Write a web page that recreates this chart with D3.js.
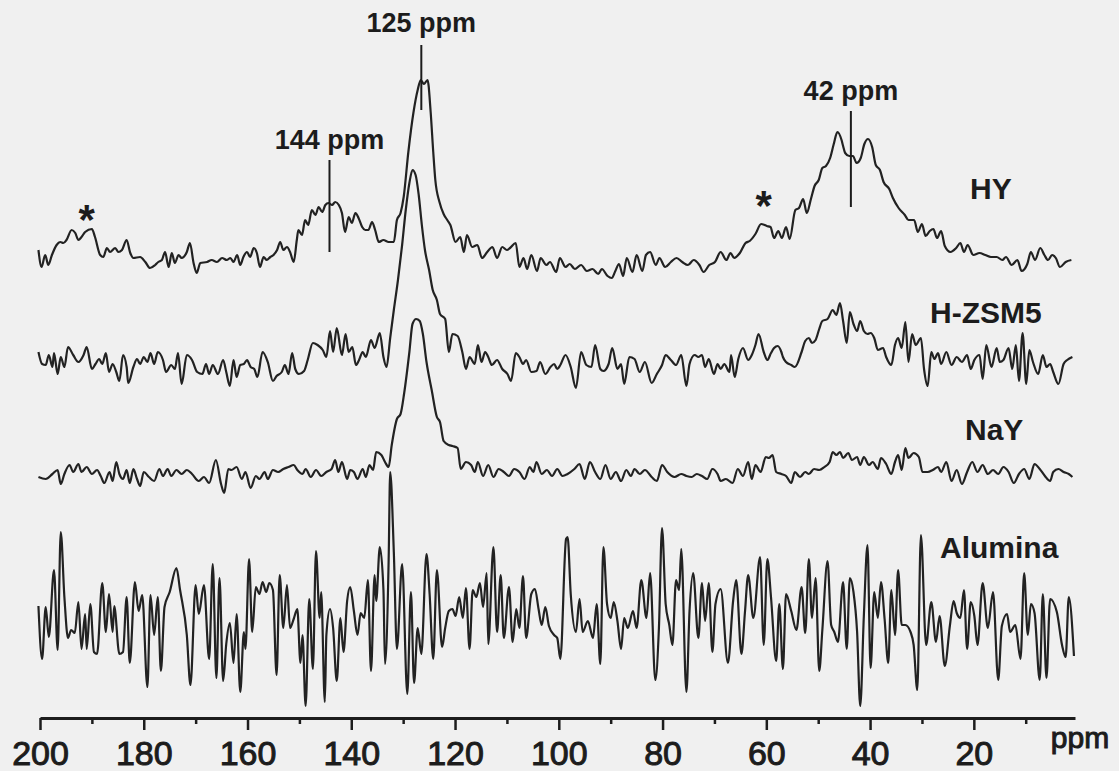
<!DOCTYPE html>
<meta charset="utf-8">
<script src="https://d3js.org/d3.v7.min.js"></script>
<style>
  body { margin: 0; background: #f0f0f0; }
  #chart { width: 1119px; height: 771px; }
  text { font-family: "Liberation Sans", Arial, sans-serif; fill: #1c1c1c; }
</style>
<body>
<div id="chart"></div>
<script>
// spectra: [ppm, intensity above own baseline]
var hy = [[200.3,12],[199.7,-5],[199.0,7],[198.4,-3],[197.7,7],[196.8,17],[196.1,20],[195.5,19],[194.9,22],[193.9,32],[193.2,29],[192.6,22],[192.0,25],[191.3,30],[190.0,33],[189.4,25],[188.4,7],[187.8,5],[187.1,14],[186.5,10],[185.5,14],[184.9,10],[184.2,12],[183.3,22],[182.6,9],[182.0,4],[180.7,5],[179.7,0],[178.8,-6],[177.8,-3],[177.2,0],[176.5,2],[175.9,10],[175.2,-5],[174.6,9],[174.0,-1],[173.3,7],[172.7,4],[171.7,10],[171.1,19],[170.4,-1],[169.8,-11],[169.1,-1],[167.8,0],[166.9,2],[165.9,0],[164.9,4],[164.0,2],[163.3,4],[162.7,0],[162.0,7],[161.4,-3],[160.8,5],[160.1,10],[159.5,5],[158.8,14],[158.2,9],[157.6,-5],[156.9,5],[156.3,2],[155.6,5],[155.0,7],[154.3,12],[153.7,20],[153.1,12],[152.4,15],[151.8,10],[151.1,0],[150.5,22],[150.2,32],[149.5,27],[148.9,42],[148.3,37],[147.6,52],[146.9,47],[146.3,55],[145.6,50],[145.0,57],[144.4,59],[143.7,57],[143.1,60],[142.4,57],[141.8,49],[141.2,30],[140.5,45],[139.9,39],[139.2,49],[138.6,44],[137.9,35],[137.3,32],[136.7,32],[136.0,40],[135.4,32],[134.7,20],[133.8,22],[132.8,20],[131.8,20],[131.2,42],[130.5,49],[129.9,65],[129.0,110],[128.0,150],[127.2,172],[126.6,182],[126.0,178],[125.3,182],[124.7,150],[124.2,110],[123.8,82],[123.0,60],[122.2,48],[121.5,42],[120.9,37],[119.9,20],[119.0,25],[118.3,10],[117.7,27],[116.7,15],[115.7,17],[114.8,4],[113.8,10],[112.8,15],[111.9,4],[110.9,15],[110.0,12],[109.4,14],[108.3,19],[107.6,-5],[106.8,4],[106.1,-7],[105.3,7],[104.2,-9],[103.5,4],[102.4,-3],[101.7,0],[100.5,-10],[99.8,4],[98.7,-5],[97.9,-2],[96.9,-7],[95.7,-3],[94.6,-9],[93.5,-7],[92.4,-12],[91.7,-7],[90.6,-14],[89.8,-16],[89.1,-9],[88.4,-2],[87.6,-14],[86.9,4],[85.8,-10],[85.0,7],[83.9,-9],[83.2,7],[82.4,10],[81.3,-3],[80.6,4],[79.5,-5],[78.4,0],[77.3,4],[76.2,0],[75.1,-3],[74.0,2],[72.9,-3],[72.1,-10],[71.0,-3],[69.9,0],[68.8,10],[67.7,2],[66.9,9],[66.2,4],[65.1,9],[64.0,19],[63.2,21],[62.1,28],[61.0,38],[59.9,36],[59.2,35],[58.5,24],[57.7,31],[57.0,24],[56.2,35],[55.5,23],[54.4,52],[53.7,54],[52.9,63],[52.2,49],[51.4,63],[50.7,76],[49.9,82],[49.2,94],[48.5,96],[47.7,104],[47.0,118],[46.3,130],[45.5,122],[45.2,116],[44.8,109],[44.0,106],[43.3,106],[42.6,99],[41.8,104],[41.1,118],[40.4,123],[39.6,115],[38.9,97],[38.1,92],[37.4,80],[36.3,73],[35.6,64],[34.5,54],[33.3,47],[32.6,42],[31.5,42],[30.8,30],[30.0,38],[29.3,26],[28.5,31],[27.8,33],[27.1,24],[26.3,31],[25.6,16],[24.5,10],[23.4,14],[22.6,19],[21.9,10],[21.2,17],[20.1,7],[18.9,9],[17.8,7],[16.7,5],[15.6,5],[14.5,2],[13.8,5],[12.7,-3],[11.6,2],[10.8,-9],[9.7,-2],[9.0,10],[8.2,2],[7.2,14],[6.4,7],[5.7,2],[4.9,7],[4.2,4],[3.4,-5],[2.3,0],[1.2,2]];

var hzsm5 = [[200.3,13],[199.6,1],[198.9,0],[198.3,10],[197.6,-2],[197.3,12],[196.6,-9],[196.0,8],[195.3,-2],[194.6,18],[193.6,10],[192.6,3],[191.6,10],[191.0,18],[190.0,-4],[189.3,1],[188.6,6],[188.0,1],[187.3,12],[186.7,-7],[186.0,1],[185.3,-7],[184.7,-16],[184.0,10],[183.3,-2],[183.0,-18],[182.0,-2],[181.3,6],[180.7,1],[180.0,8],[179.3,3],[178.7,12],[178.0,1],[177.3,13],[176.3,5],[175.7,-7],[174.7,0],[174.0,-4],[173.4,12],[172.7,-19],[171.7,10],[170.7,5],[169.7,-7],[168.7,-9],[168.0,1],[167.4,-9],[166.7,0],[165.7,-9],[164.7,5],[164.1,-7],[163.4,-21],[162.7,5],[162.1,-12],[161.4,0],[160.7,1],[160.1,5],[159.4,-2],[158.7,-4],[158.1,-12],[157.1,13],[156.1,3],[155.1,-16],[154.4,-11],[153.4,-7],[152.8,0],[152.1,-9],[151.4,12],[150.8,-4],[150.1,-9],[149.1,-6],[148.4,5],[147.4,22],[146.5,20],[145.5,15],[144.8,8],[144.1,34],[143.5,13],[142.8,37],[141.8,10],[141.1,31],[140.5,13],[139.8,18],[139.1,0],[138.5,5],[137.8,13],[137.2,8],[136.2,25],[135.5,17],[134.5,32],[133.8,8],[133.2,-2],[132.5,27],[131.8,55],[131.0,85],[130.2,120],[129.5,155],[128.8,182],[128.2,195],[127.6,190],[127.0,170],[126.4,140],[125.8,115],[125.0,95],[124.3,75],[123.5,65],[122.9,51],[121.9,46],[121.2,13],[120.5,31],[119.5,29],[118.6,13],[117.9,-4],[117.2,8],[116.2,1],[115.6,20],[114.9,3],[114.2,13],[113.6,8],[112.9,0],[111.9,5],[110.9,-4],[109.9,-9],[109.2,-16],[108.3,12],[107.6,8],[106.9,1],[106.3,5],[105.3,-7],[104.3,-6],[103.6,3],[102.6,-9],[101.6,-2],[100.9,1],[100.3,-4],[99.7,0],[98.7,10],[97.7,-2],[96.7,-23],[95.7,13],[94.7,0],[93.7,-2],[93.0,20],[92.0,-4],[91.4,-6],[90.4,1],[89.7,17],[88.7,-4],[88.0,1],[87.4,-19],[86.4,8],[85.4,6],[84.4,-7],[83.4,3],[82.1,-18],[81.1,-9],[80.1,0],[79.4,10],[78.4,5],[77.4,0],[76.4,10],[75.4,-21],[74.8,1],[73.8,10],[73.1,8],[72.4,10],[71.8,-2],[71.1,6],[70.1,-9],[69.4,1],[68.8,-4],[68.1,1],[67.1,-7],[66.8,10],[66.1,-12],[65.4,6],[64.5,17],[63.5,5],[62.8,10],[62.1,20],[61.5,31],[60.5,13],[59.8,5],[59.1,12],[58.5,17],[57.8,19],[57.1,13],[56.8,8],[56.2,3],[55.2,0],[54.5,-2],[53.2,13],[52.5,24],[51.8,27],[51.2,22],[50.5,25],[49.8,36],[49.2,44],[48.2,46],[47.2,55],[46.5,50],[45.8,62],[45.2,44],[44.5,22],[43.9,53],[43.2,41],[42.5,34],[41.9,44],[41.2,34],[40.5,31],[39.9,32],[39.2,27],[38.5,15],[37.5,17],[36.9,8],[35.9,0],[35.2,20],[34.6,27],[33.9,17],[33.2,43],[32.6,3],[31.9,31],[31.2,20],[30.2,27],[29.6,-4],[28.9,-21],[28.2,13],[27.6,6],[26.9,12],[26.3,1],[25.3,13],[24.3,0],[23.3,8],[22.3,3],[21.3,10],[20.6,-4],[19.9,5],[18.9,10],[18.3,-14],[17.6,20],[16.6,-2],[15.6,17],[15.0,3],[14.3,5],[13.3,17],[12.6,-4],[11.9,20],[11.3,-16],[10.6,32],[9.9,-19],[9.3,15],[8.6,3],[7.6,-9],[6.7,10],[6.0,-2],[5.3,1],[4.7,-7],[3.7,-19],[2.7,1],[2.0,5],[1.0,8]];

var nay = [[200.3,-2],[198.9,-4],[197.6,1],[196.6,5],[196.0,-9],[195.3,1],[194.3,10],[193.6,3],[192.6,11],[192.0,3],[191.0,8],[190.0,1],[189.0,5],[188.3,-1],[187.6,-8],[186.6,3],[186.0,-6],[185.3,13],[184.7,1],[184.0,-4],[183.3,5],[182.7,-8],[182.0,6],[181.3,-4],[180.7,-11],[180.0,3],[179.0,-2],[178.0,-6],[177.0,6],[176.3,-1],[175.4,6],[174.7,-1],[173.7,5],[172.7,1],[171.7,5],[170.7,1],[169.4,-6],[168.4,-2],[167.4,-8],[166.1,15],[165.1,-9],[164.5,-18],[163.7,6],[163.1,5],[162.1,8],[161.1,-4],[160.4,3],[159.4,-13],[158.4,-1],[157.7,-4],[156.7,3],[156.1,-4],[155.1,5],[154.1,3],[153.1,6],[152.1,8],[151.1,10],[150.4,5],[149.4,1],[148.8,6],[147.8,-2],[146.8,5],[145.8,-1],[144.8,3],[143.8,6],[143.1,15],[142.5,3],[141.8,13],[140.8,-4],[140.2,5],[139.5,3],[138.8,-4],[137.8,6],[137.2,-2],[136.5,10],[135.8,5],[135.2,23],[134.2,20],[133.5,13],[132.8,8],[132.2,30],[131.2,56],[130.5,61],[129.8,82],[128.8,123],[128.2,151],[127.5,156],[126.8,154],[126.2,141],[125.5,113],[124.5,85],[123.5,58],[122.9,53],[122.2,34],[121.2,30],[120.5,29],[119.5,27],[118.9,6],[117.9,13],[116.9,10],[116.2,3],[115.6,13],[114.6,-1],[113.6,10],[112.6,-2],[111.6,6],[110.6,3],[109.6,-1],[108.6,6],[107.6,3],[106.6,-4],[105.6,8],[104.9,3],[104.3,13],[103.3,1],[102.3,5],[101.3,-1],[100.3,6],[99.3,-1],[98.3,1],[97.0,6],[96.0,11],[95.0,-4],[94.0,13],[93.0,3],[92.0,-4],[91.0,10],[90.0,-4],[89.0,3],[88.0,-6],[87.0,5],[86.1,-1],[85.4,6],[84.4,1],[83.4,5],[82.1,-2],[81.1,-6],[80.1,10],[79.1,3],[77.7,-2],[76.4,1],[75.4,-1],[74.4,-2],[73.4,1],[72.4,-1],[71.4,-4],[70.4,6],[69.4,1],[68.8,-6],[67.8,-4],[66.5,-8],[65.5,6],[64.5,-1],[63.5,13],[62.8,-4],[62.1,10],[61.1,3],[60.1,18],[59.5,17],[58.8,20],[58.1,3],[57.1,1],[56.2,-1],[55.2,-8],[54.5,3],[53.5,-2],[52.5,3],[51.8,1],[50.8,6],[49.8,5],[48.8,8],[47.8,13],[47.2,23],[46.5,20],[45.8,23],[45.2,17],[44.2,22],[43.5,15],[42.5,18],[41.9,10],[41.2,18],[40.2,10],[39.5,13],[38.5,6],[37.9,17],[36.9,11],[35.9,1],[35.2,13],[34.6,20],[33.9,5],[33.2,27],[32.6,17],[31.6,22],[30.6,18],[29.9,3],[28.9,3],[27.9,5],[26.9,8],[26.3,3],[25.3,13],[24.3,-6],[23.3,5],[22.3,-9],[21.3,3],[20.3,13],[19.3,3],[18.3,10],[17.3,1],[16.3,5],[15.3,1],[14.3,8],[13.3,3],[12.3,-8],[11.3,1],[10.3,6],[9.3,-4],[8.3,11],[7.3,6],[6.3,-1],[5.3,-6],[4.7,3],[3.7,6],[2.7,3],[1.7,1],[1.0,-2]];

var alumina = [[200.3,6],[199.6,-47],[198.9,5],[198.3,-25],[197.3,42],[196.6,-38],[196.0,80],[195.3,15],[194.6,-26],[194.0,-18],[193.3,-21],[192.6,10],[192.0,-37],[191.3,-2],[191.0,-37],[190.3,8],[189.6,-40],[189.0,-42],[188.0,29],[187.3,-20],[186.7,18],[186.0,-20],[185.7,6],[184.7,-42],[184.0,-40],[183.3,15],[182.7,-51],[181.7,30],[181.0,1],[180.3,17],[179.3,-75],[178.7,17],[178.0,-23],[177.3,15],[176.7,-59],[176.0,5],[175.0,20],[173.7,44],[173.0,22],[171.7,-23],[171.0,-73],[170.0,27],[169.4,-2],[168.4,27],[167.4,-47],[166.7,48],[166.0,-66],[165.4,34],[164.7,-69],[164.1,-32],[163.4,-11],[162.7,-51],[162.1,-2],[161.4,-80],[160.7,-20],[160.4,-37],[159.7,53],[159.1,-20],[158.4,25],[157.7,18],[157.1,30],[156.4,20],[155.8,29],[155.1,22],[154.4,-63],[153.8,37],[153.1,-16],[152.4,27],[151.8,-16],[151.1,-7],[150.4,3],[149.8,-51],[149.4,-23],[148.8,-94],[148.1,13],[147.4,-57],[146.8,61],[146.1,-6],[145.8,20],[145.1,-90],[144.8,-23],[144.1,3],[143.5,-16],[142.8,-69],[142.1,-6],[141.5,-40],[140.8,11],[140.2,25],[139.5,1],[138.8,-23],[138.2,-1],[137.5,-6],[136.8,32],[136.2,-59],[135.5,37],[135.2,11],[134.5,65],[133.8,22],[133.5,-52],[132.8,51],[132.5,140],[131.8,60],[131.2,-37],[130.2,48],[129.2,-82],[128.5,20],[127.9,-71],[127.2,-16],[126.5,-42],[125.5,58],[124.9,18],[124.2,-47],[123.5,42],[122.5,-35],[121.9,-16],[121.2,1],[120.5,3],[119.9,-4],[119.2,15],[118.5,-6],[117.9,24],[117.2,-37],[116.6,22],[115.9,15],[115.2,29],[114.6,5],[113.9,39],[113.6,-32],[112.6,65],[111.9,-20],[111.2,37],[110.6,-26],[109.6,25],[108.9,-30],[108.2,3],[107.6,-16],[106.9,36],[106.3,-26],[105.3,18],[104.6,23],[103.9,3],[103.3,-13],[102.6,5],[101.9,-14],[100.9,-23],[100.3,-26],[99.7,-47],[98.6,73],[98.3,75],[97.7,18],[96.7,-20],[96.0,13],[95.4,-20],[94.4,-9],[93.4,-26],[92.7,8],[92.0,-52],[91.4,65],[90.7,8],[90.0,-6],[89.4,10],[88.7,-9],[88.0,-37],[87.4,-6],[86.7,-16],[85.7,1],[85.0,-16],[84.1,32],[83.1,-6],[82.4,39],[81.4,-68],[80.7,-16],[80.1,84],[79.4,8],[78.7,-13],[78.1,-33],[77.4,32],[76.8,22],[76.4,63],[75.4,-80],[74.8,1],[74.1,39],[73.1,-26],[72.4,29],[71.8,-9],[71.1,29],[70.4,-40],[69.8,8],[68.8,23],[67.4,-51],[66.4,11],[65.8,32],[64.8,-42],[64.1,1],[63.5,37],[62.5,-6],[61.2,55],[60.5,-33],[59.8,53],[59.1,15],[58.1,-49],[57.5,8],[56.8,-57],[56.2,18],[55.2,1],[54.2,-18],[53.2,25],[52.5,-21],[51.8,53],[51.2,-6],[50.5,34],[49.8,-59],[49.2,-18],[48.2,51],[47.5,-13],[46.9,-20],[46.2,-30],[45.2,30],[44.5,-37],[43.9,34],[43.2,20],[42.5,-20],[41.9,-94],[41.2,-4],[40.5,67],[39.9,-56],[39.2,20],[38.5,-6],[37.9,30],[37.2,-7],[36.5,-51],[35.9,22],[35.2,-23],[34.6,42],[33.9,-13],[33.2,-13],[32.2,-20],[31.6,-33],[30.9,-78],[30.2,77],[29.2,-33],[28.2,10],[27.3,-30],[26.6,-4],[25.6,-54],[24.6,-13],[23.9,11],[23.3,-1],[22.6,-6],[21.9,22],[21.3,-37],[20.6,10],[19.9,-4],[19.3,-33],[18.3,29],[17.3,-16],[16.3,20],[15.3,-68],[14.6,-14],[13.6,-2],[13.0,-20],[12.0,-13],[11.0,-47],[10.3,39],[9.6,-23],[9.0,8],[8.3,-1],[7.3,-68],[6.7,18],[6.0,-66],[5.3,13],[4.0,0],[3.0,-33],[2.3,-45],[1.7,15],[0.7,-44]];

var seriesNames = ["HY", "H-ZSM5", "NaY", "Alumina"];
var seriesData = [hy, hzsm5, nay, alumina];

var majorTicks = [200, 180, 160, 140, 120, 100, 80, 60, 40, 20];
var minorTicks = [190, 170, 150, 130, 110, 90, 70, 50, 30, 10];

var peakPpm = [126.5, 144.2, 43.7];
var peakLabels = ["125 ppm", "144 ppm", "42 ppm"];
var starPpm = [191, 60.5];

// layout (pixels)
var W = 1119, H = 771, axisY = 718;
var baselines = [262, 365, 475, 612];
var nameX = [970, 930, 965, 940], nameY = [199, 323, 440, 558];
var peakLine = [[45, 110], [160, 252], [111, 207]], peakTextY = [32, 149, 100];
var starY = [210, 196];

var svg = d3.select("#chart").append("svg")
  .attr("width", W).attr("height", H);

svg.append("rect").attr("width", W).attr("height", H).attr("fill", "#f0f0f0");

var x = d3.scaleLinear().domain([200, 0.5]).range([40, 1075]);

var line = d3.line()
  .curve(d3.curveMonotoneX)
  .x(function(d) { return x(d[0]); });

seriesData.forEach(function(data, i) {
  var y = d3.scaleLinear().domain([0, 100]).range([baselines[i], baselines[i] - 100]);
  svg.append("path")
    .datum(data)
    .attr("fill", "none")
    .attr("stroke", "#222")
    .attr("stroke-width", 2.2)
    .attr("stroke-linejoin", "round")
    .attr("d", line.y(function(d) { return y(d[1]); }));

  svg.append("text")
    .attr("x", nameX[i]).attr("y", nameY[i])
    .style("font-size", "30px").style("font-weight", "bold")
    .text(seriesNames[i]);
});

// peak markers
peakPpm.forEach(function(p, i) {
  svg.append("line")
    .attr("x1", x(p)).attr("x2", x(p))
    .attr("y1", peakLine[i][0]).attr("y2", peakLine[i][1])
    .attr("stroke", "#1c1c1c").attr("stroke-width", 2);
  svg.append("text")
    .attr("x", x(p)).attr("y", peakTextY[i])
    .attr("text-anchor", "middle")
    .style("font-size", "27px").style("font-weight", "bold")
    .text(peakLabels[i]);
});

// spinning side band stars
starPpm.forEach(function(p, i) {
  svg.append("text")
    .attr("x", x(p)).attr("y", starY[i] + 24)
    .attr("text-anchor", "middle")
    .style("font-size", "42px").style("font-weight", "bold")
    .text("*");
});

// x axis
var gAxis = svg.append("g").attr("transform", "translate(0," + axisY + ")");
gAxis.call(d3.axisBottom(x).tickValues(majorTicks).tickSize(12).tickSizeOuter(0)
  .tickFormat(d3.format("d")));
gAxis.append("g").call(d3.axisBottom(x).tickValues(minorTicks).tickSize(6).tickFormat(""))
  .select(".domain").remove();
gAxis.selectAll(".domain").attr("stroke", "#1c1c1c").attr("stroke-width", 3);
gAxis.selectAll(".tick line").attr("stroke", "#1c1c1c").attr("stroke-width", 2.5);
gAxis.selectAll(".tick text")
  .attr("y", 47).attr("dy", null)
  .attr("fill", "#1c1c1c")
  .style("font-size", "34px")
  .style("font-family", "'Liberation Sans', Arial, sans-serif")
  .style("stroke", "#1c1c1c").style("stroke-width", 1);

svg.append("text")
  .attr("x", 1080).attr("y", 748)
  .attr("text-anchor", "middle")
  .style("font-size", "30px")
  .style("stroke", "#1c1c1c").style("stroke-width", 1)
  .text("ppm");
</script>
</body>
